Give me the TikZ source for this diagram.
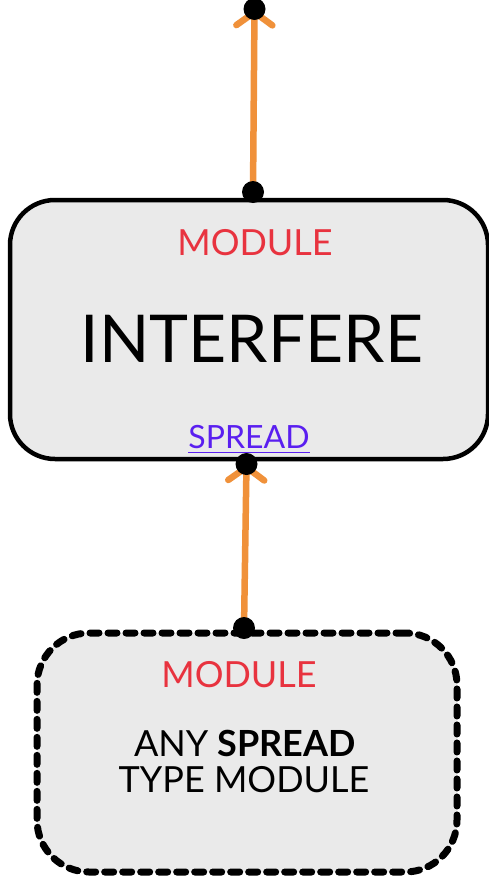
\documentclass[tikz,border=0pt]{standalone}
\usepackage{fontspec}
\setmainfont{Lato}
\usetikzlibrary{arrows.meta,calc}
\definecolor{wireorange}{HTML}{F0913A}
\definecolor{modred}{HTML}{E8333F}
\definecolor{spreadviolet}{HTML}{5A1FF0}
\definecolor{boxgray}{HTML}{EAEAEA}
\tikzset{
  modbox/.style={draw=black, fill=boxgray, line width=4.5pt, rounded corners=45pt,
    inner sep=0pt},
  dashbox/.style={draw=black, fill=boxgray, line width=7pt, rounded corners=52pt,
    inner sep=0pt, line cap=round, dash pattern=on 9pt off 9pt},
  port/.style={circle, fill=black, inner sep=0pt, minimum size=22pt},
  wire/.style={draw=wireorange, line width=6.5pt, line cap=round,
    -{Straight Barb[length=13pt, width=36pt, line width=6.5pt, round]}},
  modlabel/.style={anchor=base, text=modred, font=\fontsize{36}{40}\selectfont, inner sep=0pt},
  spreadlabel/.style={anchor=base, text=spreadviolet, font=\fontsize{32}{34}\selectfont, inner sep=0pt},
  titlelabel/.style={anchor=base, text=black, font=\fontsize{66}{70}\selectfont, inner sep=0pt},
  bodylabel/.style={anchor=base, text=black, font=\fontsize{36}{38}\selectfont, inner sep=0pt},
}
\begin{document}
\begin{tikzpicture}[x=1pt, y=-1pt]
\useasboundingbox (0,0) rectangle (489,878);
\fill[white] (0,0) rectangle (489,878);

% boxes
\node[modbox, minimum width=478pt, minimum height=259pt] (inter) at (249,329.5) {};
\node[dashbox, minimum width=420pt, minimum height=239pt] (anymod) at (247,752.5) {};

% labels of the INTERFERE module
\node[modlabel] (modA) at (255,255) {MODULE};
\node[titlelabel] (title) at (252,362) {INTERFERE};
\node[spreadlabel] (spread) at (249,448) {SPREAD};
\draw[spreadviolet, line width=1.5pt] ($(spread.base west)+(0,4.5)$) -- ($(spread.base east)+(0,4.5)$);

% labels of the input module
\node[modlabel] (modB) at (239,687) {MODULE};
\node[bodylabel] (any) at (245,756) {ANY \textbf{SPREAD}};
\node[bodylabel] (type) at (244,792) {TYPE MODULE};

% ports
\coordinate (outtipc) at (254.5,9);
\coordinate (outbasec) at (253,192);
\coordinate (intipc) at (246.5,464);
\coordinate (inbasec) at (244,628);

% wires
\draw[wire] (outbasec) -- (outtipc);
\draw[wire] (inbasec) -- (intipc);

\node[port] (outtip) at (outtipc) {};
\node[port] (outbase) at (outbasec) {};
\node[port] (intip) at (intipc) {};
\node[port] (inbase) at (inbasec) {};
\end{tikzpicture}
\end{document}
